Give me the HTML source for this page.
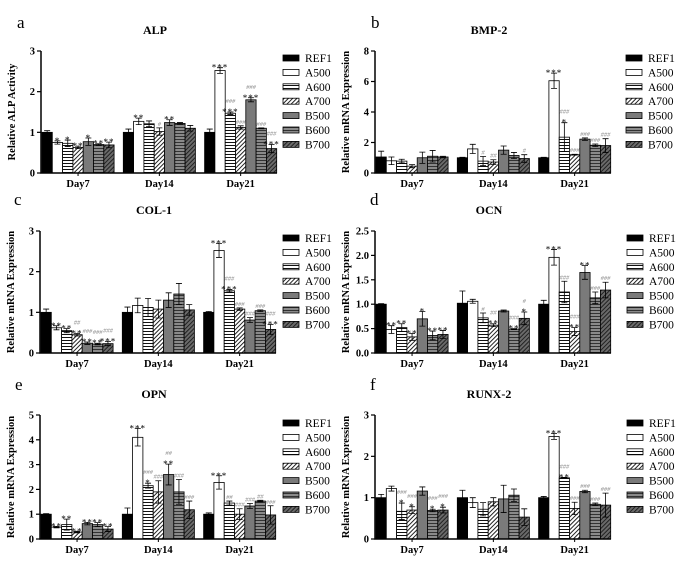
<!DOCTYPE html>
<html><head><meta charset="utf-8"><style>
body{margin:0;background:#fff;}
svg{display:block;font-family:"Liberation Serif",serif;}
</style></head><body>
<svg id="fig" width="680" height="566" viewBox="0 0 680 566">
<defs>
<pattern id="pH" patternUnits="userSpaceOnUse" width="4" height="3"><rect width="4" height="3" fill="#fff"/><rect y="1" width="4" height="1" fill="#111"/></pattern>
<pattern id="pD" patternUnits="userSpaceOnUse" width="3" height="3" patternTransform="rotate(45)"><rect width="3" height="3" fill="#fff"/><rect width="1" height="3" fill="#222"/></pattern>
<pattern id="pGH" patternUnits="userSpaceOnUse" width="4" height="3"><rect width="4" height="3" fill="#8a8a8a"/><rect y="1" width="4" height="1" fill="#333"/></pattern>
<pattern id="pGD" patternUnits="userSpaceOnUse" width="3" height="3" patternTransform="rotate(45)"><rect width="3" height="3" fill="#6a6a6a"/><rect width="1" height="3" fill="#222"/></pattern>
</defs>
</svg>
<script>
const seriesNames=["REF1","A500","A600","A700","B500","B600","B700"];
const categories=["Day7","Day14","Day21"];
const titles=["ALP","BMP-2","COL-1","OCN","OPN","RUNX-2"];
const letters=["a","b","c","d","e","f"];
const yLabels=["Relative ALP Activity","Relative mRNA Expression","Relative mRNA Expression","Relative mRNA Expression","Relative mRNA Expression","Relative mRNA Expression"];
const yMaxes=[3,8,3,2.5,5,3];
const tickLabelsA=["0","1","2","3"];
const tickLabelsB=["0","2","4","6","8"];
const tickLabelsC=["0","1","2","3"];
const tickLabelsD=["0.0","0.5","1.0","1.5","2.0","2.5"];
const tickLabelsE=["0","1","2","3","4","5"];
const tickLabelsF=["0","1","2","3"];
const valuesA=[[1.0,0.75,0.73,0.63,0.77,0.70,0.69],[1.0,1.27,1.21,1.02,1.24,1.22,1.10],[1.0,2.52,1.47,1.12,1.80,1.10,0.60]];
const errorsA=[[0.04,0.04,0.08,0.03,0.09,0.02,0.07],[0.08,0.08,0.07,0.09,0.07,0.02,0.07],[0.08,0.07,0.03,0.04,0.05,0.01,0.1]];
const annotA=[["","*","*","**","*","**","**"],["","**","","|#","**","",""],["","***","***|###","|###","***|###","|###","***|###"]];
const valuesB=[[1.05,0.8,0.78,0.45,1.0,1.1,1.05],[1.0,1.58,0.78,0.72,1.5,1.15,0.95],[1.0,6.05,2.35,1.2,2.22,1.82,1.8]];
const errorsB=[[0.38,0.25,0.12,0.1,0.37,0.38,0.05],[0.03,0.3,0.3,0.15,0.27,0.2,0.25],[0.03,0.5,0.95,0.03,0.08,0.08,0.45]];
const annotB=[["","","","","","",""],["","","|#","|##","","","|#"],["","***","*|###","|###","|###","|###","|###"]];
const valuesC=[[1.0,0.62,0.55,0.45,0.24,0.22,0.23],[1.0,1.17,1.12,1.08,1.3,1.45,1.06],[1.0,2.52,1.53,1.08,0.81,1.04,0.58]];
const errorsC=[[0.08,0.05,0.05,0.03,0.03,0.02,0.05],[0.13,0.18,0.22,0.22,0.18,0.26,0.13],[0.02,0.17,0.03,0.03,0.06,0.02,0.12]];
const annotC=[["","**","**","**|##","**|###","**|###","***|###"],["","","","","","",""],["","***","***|###","|###","|###","|###","***|###"]];
const valuesD=[[1.0,0.48,0.52,0.33,0.7,0.36,0.38],[1.02,1.06,0.72,0.57,0.86,0.49,0.71],[1.0,1.96,1.25,0.44,1.65,1.13,1.29]];
const errorsD=[[0.01,0.08,0.08,0.07,0.15,0.09,0.08],[0.25,0.04,0.1,0.03,0.02,0.01,0.13],[0.08,0.16,0.22,0.08,0.14,0.12,0.16]];
const annotD=[["","**","**","**","*","**","**"],["","","|#","**|##","","**|###","*|#"],["","***","|###","**|###","**","|###","|###"]];
const valuesE=[[1.0,0.48,0.58,0.28,0.62,0.58,0.4],[1.0,4.1,2.15,1.9,2.6,1.9,1.18],[1.0,2.28,1.45,1.0,1.33,1.53,0.97]];
const errorsE=[[0.02,0.03,0.22,0.03,0.05,0.08,0.1],[0.25,0.35,0.1,0.45,0.42,0.5,0.35],[0.05,0.27,0.08,0.22,0.1,0.03,0.37]];
const annotE=[["","**","**","**","**","**","**"],["","***","*|###","|###","**|##","|###","|###"],["","***","|##","|###","|###","|##","|###"]];
const valuesF=[[1.0,1.22,0.67,0.7,1.16,0.69,0.7],[1.0,0.88,0.72,0.9,0.97,1.06,0.53],[1.0,2.48,1.48,0.74,1.15,0.84,0.82]];
const errorsF=[[0.08,0.06,0.2,0.08,0.1,0.03,0.07],[0.18,0.12,0.16,0.1,0.33,0.15,0.2],[0.03,0.07,0.01,0.15,0.03,0.03,0.29]];
const annotF=[["","","*|###","*|###","","*|###","*|###"],["","","","","","",""],["","***","**|###","|###","|###","|###","|###"]];

const allValues=[valuesA,valuesB,valuesC,valuesD,valuesE,valuesF];
const allErrors=[errorsA,errorsB,errorsC,errorsD,errorsE,errorsF];
const allAnnot=[annotA,annotB,annotC,annotD,annotE,annotF];
const allTicks=[tickLabelsA,tickLabelsB,tickLabelsC,tickLabelsD,tickLabelsE,tickLabelsF];
const fills=["#000","#fff","url(#pH)","url(#pD)","#7a7a7a","url(#pGH)","url(#pGD)"];
const layout=[
 {ax:41,top:51,y0:173,lx:283,ly:58,letx:17,lety:28},
 {ax:375,top:51,y0:173,lx:626,ly:58,letx:371,lety:28},
 {ax:40,top:231,y0:353,lx:283,ly:238,letx:14,lety:205},
 {ax:375,top:231,y0:353,lx:627,ly:238,letx:370,lety:205},
 {ax:40,top:415,y0:539,lx:283,ly:423,letx:15,lety:390},
 {ax:375,top:415,y0:539,lx:627,ly:423,letx:370,lety:390}
];
const svg=document.getElementById('fig');
const NS="http://www.w3.org/2000/svg";
function mk(tag,attrs,parent,txt){const e=document.createElementNS(NS,tag);for(const k in attrs)e.setAttribute(k,attrs[k]);if(txt!==undefined)e.textContent=txt;(parent||svg).appendChild(e);return e;}
const BW=10.3, GP=81.3;
layout.forEach((L,p)=>{
 const g=mk('g',{});
 
 
 const ymax=yMaxes[p];
 const yS=v=>L.y0-(v/ymax)*(L.y0-L.top);
 const xB=(c,s)=>L.ax+1+c*GP+s*BW;
 const right=L.ax+236;
 const let_=mk('text',{x:L.letx,y:L.lety,'font-size':17},g,letters[p]);
 
 
 const t=mk('text',{x:L.ax+114,y:L.top-17,'font-size':12,'font-weight':'bold','text-anchor':'middle'},g,titles[p]);
 
 
 const yl=mk('text',{x:0,y:0,'font-size':10.5,'font-weight':'bold','text-anchor':'middle',transform:`translate(${L.ax-26},${(L.top+L.y0)/2}) rotate(-90)`},g,yLabels[p]);
 
 
 allValues[p].forEach((row,c)=>{
  row.forEach((v,s)=>{
   const x=xB(c,s), y=yS(v);
   const r=mk('rect',{x:x,y:y,width:BW,height:L.y0-y,fill:fills[s],stroke:'#000','stroke-width':0.8},g);
   
   
   const e=allErrors[p][c][s];
   const cx=x+BW/2, yt=yS(v+e), yb=yS(Math.max(0,v-e));
   const eb=mk('path',{d:`M${cx},${yb}V${yt}M${cx-3},${yt}H${cx+3}M${cx-3},${yb}H${cx+3}`,stroke:'#000','stroke-width':0.8,fill:'none'},g);
   
   
   const an=allAnnot[p][c][s];
   if(an){
    const parts=an.split('|');
    let yy=yt-2;
    if(parts[0]){const st=mk('text',{x:cx,y:yy+5,'font-size':9,'text-anchor':'middle','letter-spacing':'1'},g,parts[0]);
     
     
     yy-=7;}
    if(parts[1]){const h=mk('text',{x:cx,y:yy,'font-size':6.5,'font-style':'italic',fill:'#888','text-anchor':'middle'},g,parts[1]);
     
     }
   }
  });
 });
 const axes=mk('path',{d:`M${L.ax},${L.top}V${L.y0}H${right}`,stroke:'#000','stroke-width':1.5,fill:'none'},g);
 
 
 allTicks[p].forEach(lbl=>{
  const v=parseFloat(lbl), y=yS(v);
  mk('line',{x1:L.ax-4,x2:L.ax,y1:y,y2:y,stroke:'#000','stroke-width':1.2},g);
  const tl=mk('text',{x:L.ax-6,y:y+3.5,'font-size':10.5,'font-weight':'bold','text-anchor':'end'},g,lbl);
  
  
 });
 categories.forEach((cat,c)=>{
  const cx=xB(c,3.5);
  mk('line',{x1:cx,x2:cx,y1:L.y0,y2:L.y0+3,stroke:'#000','stroke-width':1},g);
  const cl=mk('text',{x:cx,y:L.y0+14,'font-size':10.5,'font-weight':'bold','text-anchor':'middle'},g,cat);
  
  
 });
 seriesNames.forEach((n,s)=>{
  const y=L.ly+s*14.4;
  const sw=mk('rect',{x:L.lx,y:y-3,width:16,height:6,fill:fills[s],stroke:'#000','stroke-width':0.8},g);
  
  
  const lt=mk('text',{x:L.lx+22,y:y+4,'font-size':11.5},g,n);
  
  
 });
});
</script>
</body></html>
